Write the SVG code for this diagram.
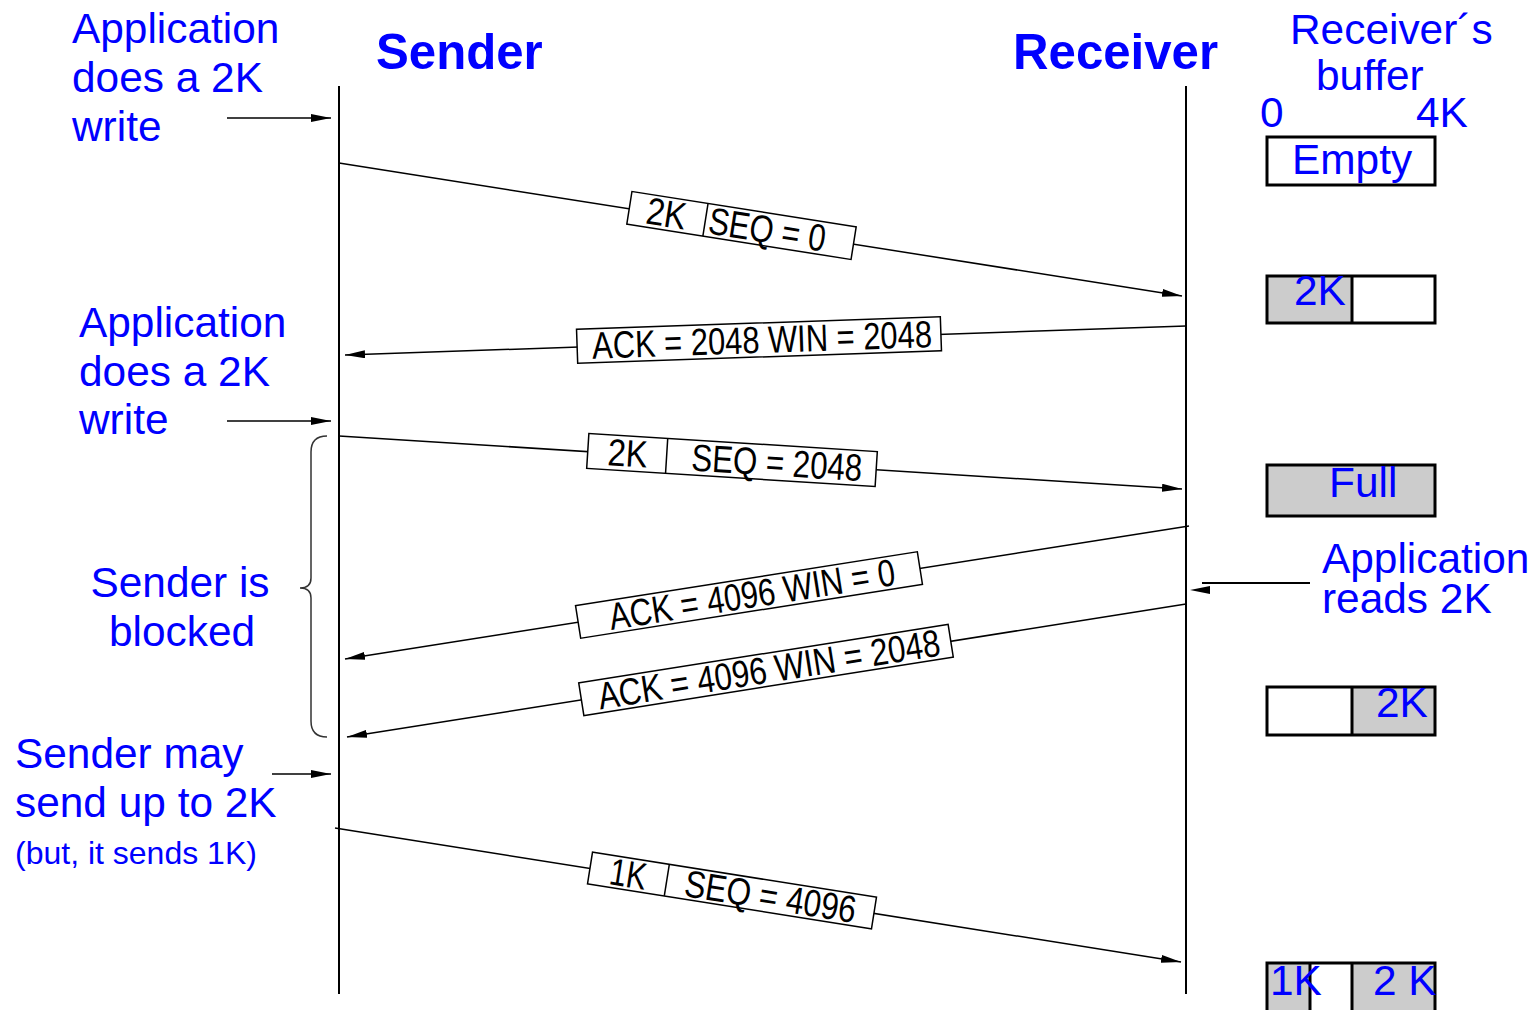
<svg xmlns="http://www.w3.org/2000/svg" width="1533" height="1010" viewBox="0 0 1533 1010">
  <style>
    .note { font-family: "Liberation Sans", Arial, sans-serif; font-size: 42.4px; fill: #0000ff; }
    .small { font-size: 32px; }
    .head { font-family: "Liberation Sans", Arial, sans-serif; font-size: 49.2px; font-weight: bold; fill: #0000ff; }
    .life { stroke: #000; stroke-width: 2; fill: none; }
    .msg { stroke: #000; stroke-width: 1.5; fill: none; marker-end: url(#arrow); }
    .tag rect { fill: #fff; stroke: #000; stroke-width: 1.5; }
    .tag line { stroke: #000; stroke-width: 1.5; }
    .tag text { font-family: "Liberation Sans", Arial, sans-serif; font-size: 38px; fill: #000; text-anchor: middle; }
    .buf { stroke: #000; stroke-width: 3; fill: none; }
    .full { fill: #cccccc; }
  </style>
  <defs>
    <marker id="arrow" viewBox="0 0 20 8" refX="20" refY="4" markerWidth="20" markerHeight="8" markerUnits="userSpaceOnUse" orient="auto">
      <path d="M0,0 L20,4 L0,8 z" fill="#000"/>
    </marker>
  </defs>

  <rect width="1533" height="1010" fill="#fff"/>

  <!-- column headings -->
  <g id="sender">
    <text class="head" x="376" y="69">Sender</text>
    <line class="life" x1="339" y1="86" x2="339" y2="994"/>
  </g>
  <g id="receiver">
    <text class="head" x="1013" y="69">Receiver</text>
    <line class="life" x1="1186" y1="86" x2="1186" y2="994"/>
  </g>

  <!-- application annotations on the sender side -->
  <g id="write1">
    <text class="note" x="72" y="43">Application</text>
    <text class="note" x="72" y="92">does a 2K</text>
    <text class="note" x="72" y="141">write</text>
  </g>
  <g id="write2">
    <text class="note" x="79" y="337">Application</text>
    <text class="note" x="79" y="386">does a 2K</text>
    <text class="note" x="79" y="434">write</text>
  </g>
  <g id="blocked">
    <text class="note" x="180" y="597" text-anchor="middle">Sender is</text>
    <text class="note" x="182" y="646" text-anchor="middle">blocked</text>
    <path d="M327,436 Q311,436 311,452 L311,578 Q311,588 300,588 Q311,588 311,598 L311,721 Q311,737 327,737" fill="none" stroke="#333" stroke-width="1.5"/>
  </g>
  <g id="maysend">
    <text class="note" x="15" y="768">Sender may</text>
    <text class="note" x="15" y="817">send up to 2K</text>
    <text class="note small" x="15" y="864">(but, it sends 1K)</text>
  </g>

  <!-- receiver buffer states -->
  <g id="buffer-title">
    <text class="note" x="1290" y="44">Receiver´s</text>
    <text class="note" x="1316" y="90">buffer</text>
    <text class="note" x="1260" y="127">0</text>
    <text class="note" x="1416" y="127">4K</text>
  </g>
  <g id="buf-empty">
    <rect class="buf" x="1267" y="137" width="168" height="48"/>
    <text class="note" x="1292" y="174">Empty</text>
  </g>
  <g id="buf-2k">
    <rect class="full" x="1267" y="276" width="85" height="47"/>
    <rect class="buf" x="1267" y="276" width="168" height="47"/>
    <line class="buf" x1="1352" y1="276" x2="1352" y2="323"/>
    <text class="note" x="1294" y="305">2K</text>
  </g>
  <g id="buf-full">
    <rect class="full" x="1267" y="465" width="168" height="51"/>
    <rect class="buf" x="1267" y="465" width="168" height="51"/>
    <text class="note" x="1329" y="497">Full</text>
  </g>
  <g id="reads">
    <text class="note" x="1322" y="573">Application</text>
    <text class="note" x="1322" y="613">reads 2K</text>
    <line x1="1202" y1="583" x2="1310" y2="583" stroke="#000" stroke-width="2"/>
    <path d="M1190,590 L1210,586 L1210,594 z" fill="#000"/>
  </g>
  <g id="buf-2k-right">
    <rect class="full" x="1352" y="687" width="83" height="48"/>
    <rect class="buf" x="1267" y="687" width="168" height="48"/>
    <line class="buf" x1="1352" y1="687" x2="1352" y2="735"/>
    <text class="note" x="1376" y="717">2K</text>
  </g>
  <g id="buf-1k-2k">
    <rect class="full" x="1267" y="963" width="43" height="50"/>
    <rect class="full" x="1352" y="963" width="83" height="50"/>
    <rect class="buf" x="1267" y="963" width="168" height="52"/>
    <line class="buf" x1="1310" y1="963" x2="1310" y2="1012"/>
    <line class="buf" x1="1352" y1="963" x2="1352" y2="1012"/>
    <text class="note" x="1270" y="995">1K</text>
    <text class="note" x="1373" y="995">2 K</text>
  </g>

  <!-- connectors -->
  <g id="connectors">
    <line class="msg" x1="227" y1="118" x2="331" y2="118"/>
    <line class="msg" x1="227" y1="421" x2="331" y2="421"/>
    <line class="msg" x1="272" y1="774" x2="331" y2="774"/>
    <line class="msg" x1="339" y1="163" x2="1182" y2="296"/>
    <line class="msg" x1="1186" y1="326" x2="345" y2="355"/>
    <line class="msg" x1="339" y1="436" x2="1182" y2="489"/>
    <line class="msg" x1="1189" y1="526" x2="345" y2="659"/>
    <line class="msg" x1="1186" y1="604" x2="347" y2="737"/>
    <line class="msg" x1="335" y1="828" x2="1181" y2="962"/>
  </g>

  <!-- segment labels riding on the connectors -->
  <g id="seg1" class="tag" transform="translate(741.5,225.5) rotate(8.97)">
    <rect x="-113.5" y="-16.5" width="227" height="33"/>
    <line x1="-36.5" y1="-16.5" x2="-36.5" y2="16.5"/>
    <text x="-76" y="13" textLength="40" lengthAdjust="spacingAndGlyphs">2K</text>
    <text x="26" y="13" textLength="118" lengthAdjust="spacingAndGlyphs">SEQ = 0</text>
  </g>
  <g id="ack1" class="tag" transform="translate(759,340) rotate(-1.97)">
    <rect x="-182" y="-17" width="364" height="34"/>
    <text x="3" y="13" textLength="340" lengthAdjust="spacingAndGlyphs">ACK = 2048 WIN = 2048</text>
  </g>
  <g id="seg2" class="tag" transform="translate(732,460) rotate(3.6)">
    <rect x="-144.5" y="-17.5" width="289" height="35"/>
    <line x1="-65.5" y1="-17.5" x2="-65.5" y2="17.5"/>
    <text x="-104.5" y="13" textLength="40" lengthAdjust="spacingAndGlyphs">2K</text>
    <text x="45" y="13" textLength="171" lengthAdjust="spacingAndGlyphs">SEQ = 2048</text>
  </g>
  <g id="ack2" class="tag" transform="translate(749,595) rotate(-8.96)">
    <rect x="-173" y="-16.5" width="346" height="33"/>
    <text x="3" y="13" textLength="289" lengthAdjust="spacingAndGlyphs">ACK = 4096 WIN = 0</text>
  </g>
  <g id="ack3" class="tag" transform="translate(766,670) rotate(-9)">
    <rect x="-187" y="-16.5" width="374" height="33"/>
    <text x="3" y="13" textLength="346" lengthAdjust="spacingAndGlyphs">ACK = 4096 WIN = 2048</text>
  </g>
  <g id="seg3" class="tag" transform="translate(732,890.5) rotate(9)">
    <rect x="-143.75" y="-16" width="287.5" height="32"/>
    <line x1="-66" y1="-16" x2="-66" y2="16"/>
    <text x="-105" y="13" textLength="37" lengthAdjust="spacingAndGlyphs">1K</text>
    <text x="39" y="13" textLength="173" lengthAdjust="spacingAndGlyphs">SEQ = 4096</text>
  </g>
</svg>
